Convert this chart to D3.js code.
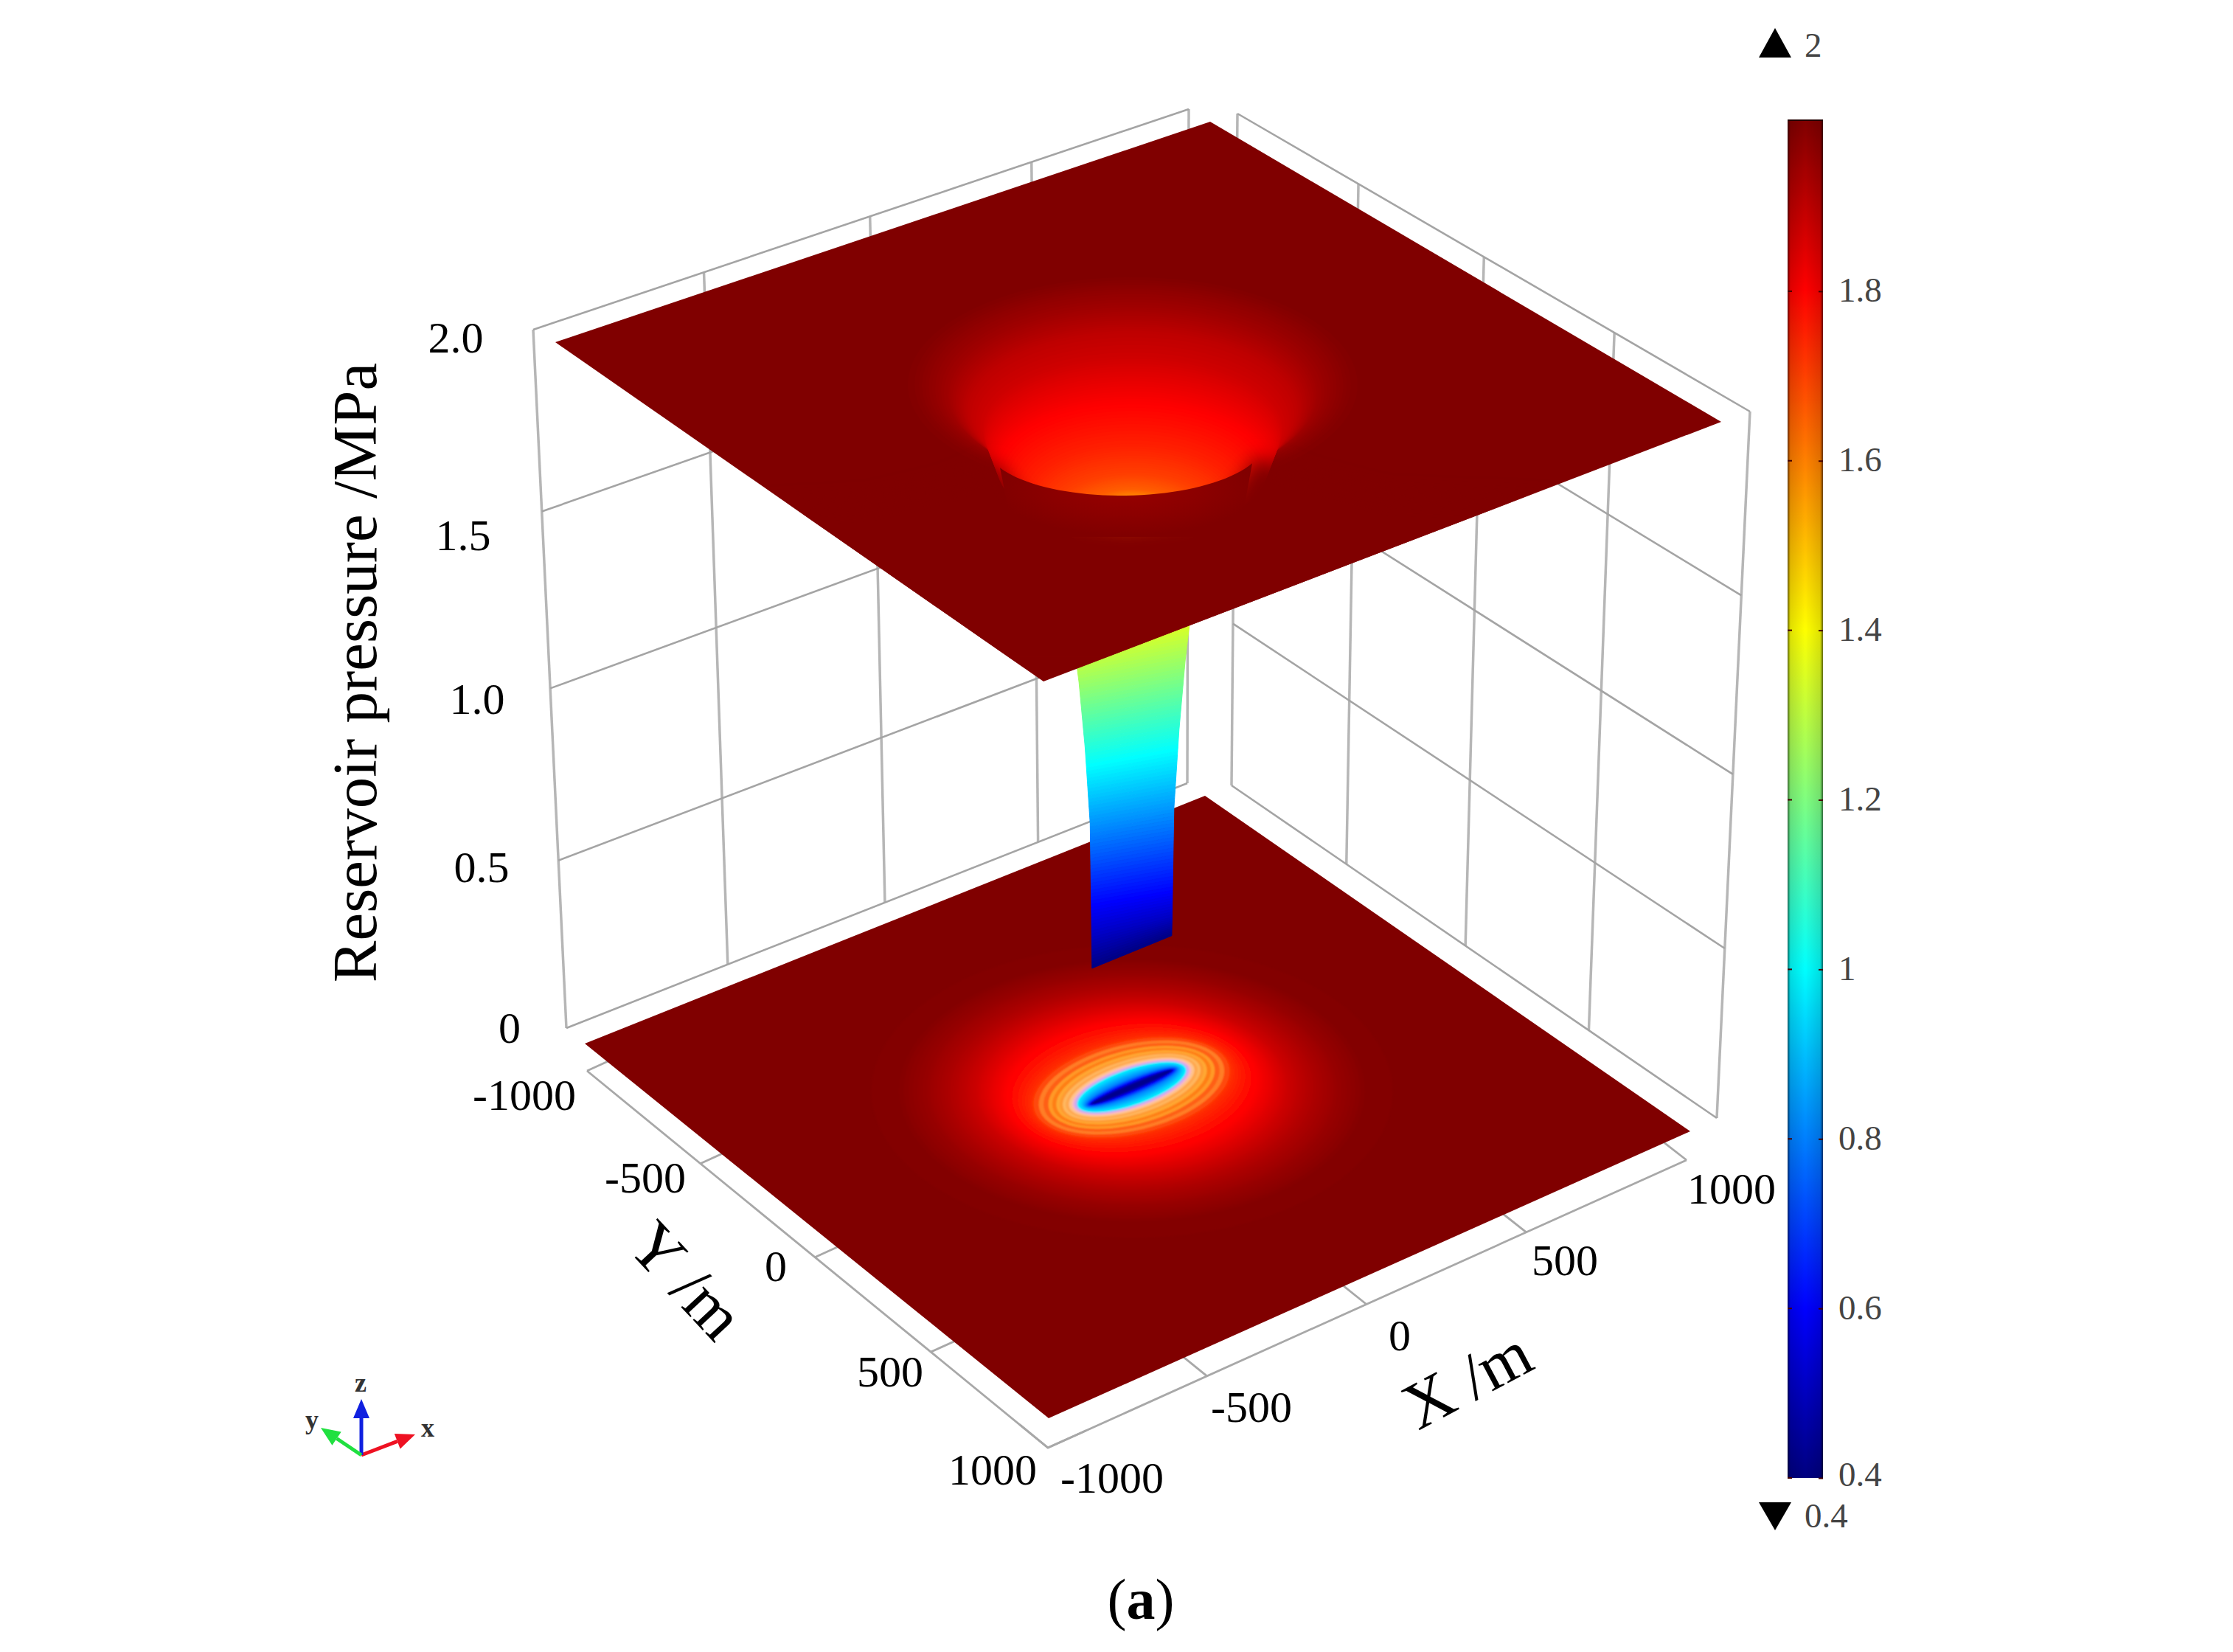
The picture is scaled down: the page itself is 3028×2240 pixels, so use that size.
<!DOCTYPE html>
<html><head><meta charset="utf-8">
<script src="https://cdn.jsdelivr.net/npm/d3@7"></script>
<style>html,body{margin:0;background:#fff}svg{display:block}text{font-family:"Liberation Serif",serif;fill:#000}</style>
</head><body><svg id="c" width="3028" height="2240"></svg>
<script>
// ---- values ----
const xTicks = [-1000,-500,0,500,1000];
const yTicks = [-1000,-500,0,500,1000];
const zTicks = [0,0.5,1,1.5,2];
const zTickLabels = ["0","0.5","1.0","1.5","2.0"];
const barTicks = [0.4,0.6,0.8,1,1.2,1.4,1.6,1.8];
const colormapValues = [0.4,0.6,1.0,1.4,1.8,2.0];
const colormapColors = ["#000080","#0000ff","#00ffff","#ffff00","#ff0000","#800000"];
// upper sheet: contour pressure, contour radius (m), apparent height of the contour (MPa)
const topLevels = [2.0,1.99,1.97,1.95,1.90,1.875,1.8,1.75,1.7,1.65,1.6];
const topRadius = [560,520,480,445,395,362,326,250,190,130,70];
const topHeight = [2.0,2.0,1.99,1.97,1.92,1.87,1.755,1.68,1.63,1.62,1.64];
// lower sheet: contour pressure and half-axes (m)
const groundLevels = [1.995,1.99,1.96,1.92,1.88,1.84,1.80,1.76,1.72,1.68,1.64,1.60,1.54,1.48,1.42,1.36,1.30,1.22,1.14,1.06,1.0,0.9,0.8,0.7,0.6,0.5,0.42];
const groundAx = [660,590,520,455,400,365,330,300,275,262,250,238,228,218,210,202,194,186,178,172,165,152,144,137,132,128,124];
const groundAy = [660,590,520,445,390,340,292,238,194,178,165,152,141,130,120,111,103,94,86,80,73,54,34,25,19,13,8];
// the drawdown column seen under the upper sheet
const columnLevels = [0.4,0.5,0.6,0.83,1.05,1.24,1.45];
const columnHalfX = [125,126,127,130,145,163,190];
const columnDrop = [0,0.03,0.045,0.045,0.045,0.045,0.045];

// ---- layout ----
const topCorners = [[753,464],[1641,165],[2334,572],[1415,924]];
const groundCorners = [[793,1415],[1634,1079],[2292,1534],[1422,1923]];
const frameCorners = [[796,1452],[1640,1068],[2287,1573],[1421,1963]];
const leftWallCorners = [[768,1394],[1610,1062],[1612,148],[723,447]];
const rightWallCorners = [[1670,1065],[2328,1516],[2373,558],[1678,154]];
const zLabelPos = [[691,1394],[653,1176],[647,948],[628,726],[618,458]];
const yLabelPos = [[711,1485],[875,1597],[1052,1717],[1207,1860],[1346,1993]];
const xLabelPos = [[1508,2004],[1697,1908],[1898,1811],[2122,1709],[2348,1612]];
const bar = {x:2424,w:48,top:163,bottom:2004};

const svg = d3.select("#c");
const defs = svg.append("defs");
const u = d3.scaleLinear().domain([-1000,1000]).range([0,1]);
const w = d3.scaleLinear().domain([0,2]).range([0,1]);
const jet = d3.scaleLinear().domain(colormapValues).range(colormapColors).clamp(true);
const line = d3.line();

function quad(p){
  const [x0,y0]=p[0],[x1,y1]=p[1],[x2,y2]=p[2],[x3,y3]=p[3];
  const dx1=x1-x2,dx2=x3-x2,sx=x0-x1+x2-x3,dy1=y1-y2,dy2=y3-y2,sy=y0-y1+y2-y3;
  const den=dx1*dy2-dx2*dy1,g=(sx*dy2-dx2*sy)/den,h=(dx1*sy-sx*dy1)/den;
  const a=x1-x0+g*x1,b=x3-x0+h*x3,d=y1-y0+g*y1,e=y3-y0+h*y3;
  return (s,t)=>{const q=g*s+h*t+1;return [(a*s+b*t+x0)/q,(d*s+e*t+y0)/q];};
}
const topQ=quad(topCorners),groundQ=quad(groundCorners),frameQ=quad(frameCorners),
      leftQ=quad(leftWallCorners),rightQ=quad(rightWallCorners);
const frame=(x,y)=>frameQ(u(x),u(y));
const leftWall=(x,z)=>leftQ(u(x),w(z));
const rightWall=(y,z)=>rightQ(u(y),w(z));
function scene(x,y,z){
  const a=groundQ(u(x),u(y)),b=topQ(u(x),u(y)),t=w(z);
  return [a[0]+(b[0]-a[0])*t,a[1]+(b[1]-a[1])*t];
}
function contour(ax,ay,z){
  const pts=d3.range(0,72).map(i=>{const t=i/72*2*Math.PI;return scene(ax*Math.cos(t),ay*Math.sin(t),z);});
  return line(pts)+"Z";
}

// ---- walls ----
const walls=svg.append("g").attr("fill","none");
function wall(fnc){
  xTicks.forEach(t=>walls.append("path").attr("d",line([fnc(t,0),fnc(t,2)]))
    .attr("stroke","#b6b6b6").attr("stroke-width",3.5));
  zTicks.forEach(t=>walls.append("path").attr("d",line([fnc(-1000,t),fnc(1000,t)]))
    .attr("stroke","#a4a4a4").attr("stroke-width",2.6));
}
wall(leftWall); wall(rightWall);

// ---- floor frame and ticks ----
const frameG=svg.append("g").attr("fill","none").attr("stroke","#a8a8a8").attr("stroke-width",2.8);
frameG.append("path").attr("d",line([frame(-1000,-1000),frame(-1000,1000),frame(1000,1000)]));
xTicks.forEach(t=>frameG.append("path").attr("d",line([frame(t,1000),frame(t,880)])));
yTicks.forEach(t=>frameG.append("path").attr("d",line([frame(-1000,t),frame(-880,t)])));

// ---- lower sheet ----
svg.append("polygon").attr("points",groundCorners.join(" ")).attr("fill",jet(2));
defs.append("filter").attr("id","soft").append("feGaussianBlur").attr("stdDeviation",1.3);
const stripeDomain=[1.72,1.68,1.64,1.60,1.54,1.48,1.42,1.36,1.30,1.22,1.14,1.06,1.0];
const stripeRange=["#ff4a08","#ff7e28","#ff5e12","#ff9a28","#ff7e18","#ffa832","#ff9a30","#ffb860","#ffa850","#ffc48c","#f8b8c8","#d0a8f0","#50d8ff"];
const stripe=d3.scaleOrdinal().domain(stripeDomain).range(stripeRange);
const axAt=d3.scaleLinear().domain(groundLevels).range(groundAx);
const ayAt=d3.scaleLinear().domain(groundLevels).range(groundAy);
const groundG=svg.append("g").attr("filter","url(#soft)");
const smoothHigh=d3.range(1.995,1.72,-0.005);
const groundDraw=[...smoothHigh.map(p=>({p,c:jet(p)})),
  ...stripeDomain.map(p=>({p,c:stripe(p)})),
  ...d3.range(0.99,0.415,-0.01).map(p=>({p,c:jet(p)}))];
groundG.selectAll("path").data(groundDraw).join("path")
  .attr("d",d=>contour(axAt(d.p),ayAt(d.p),0)).attr("fill",d=>d.c);

// ---- column ----
const colAx=d3.scaleLinear().domain(columnLevels).range(columnHalfX);
const colDrop=d3.scaleLinear().domain(columnLevels).range(columnDrop);
const colG=svg.append("g");
const colSteps=d3.range(1.45,0.4,-0.01);
const tVals=d3.range(-1,1.001,0.25);
function colRow(p){return tVals.map(t=>scene(t*colAx(p),0,p-0.017-colDrop(p)*(1+0.6*t)));}
colG.selectAll("path").data(colSteps).join("path")
  .attr("d",p=>{const a=colRow(p),b=colRow(Math.max(0.4,p-0.01)).reverse();return line(a.concat(b))+"Z";})
  .attr("fill",p=>jet(p)).attr("stroke",p=>jet(p)).attr("stroke-width",1);

// ---- upper sheet ----
defs.append("clipPath").attr("id","topClip").append("polygon").attr("points",topCorners.join(" "));
svg.append("polygon").attr("points",topCorners.join(" ")).attr("fill",jet(2));
const rAt=d3.scaleLinear().domain(topLevels).range(topRadius);
const hAt=d3.scaleLinear().domain(topLevels).range(topHeight);
const topG=svg.append("g").attr("clip-path","url(#topClip)");
const dimple=topG.append("g");
dimple.selectAll("path").data(d3.range(1.995,1.6,-0.004)).join("path")
  .attr("d",p=>contour(rAt(p),rAt(p),hAt(p))).attr("fill",p=>jet(p));
// near lip of the dimple hides the deeper part
defs.append("filter").attr("id","lipBlur").attr("x","-20%").attr("y","-20%").attr("width","140%").attr("height","140%")
  .append("feGaussianBlur").attr("stdDeviation",13);
const lipOutline=[[1000,690],[1180,680],[1285,655],[1350,625],[1385,672],[1430,700],[1527,712],[1630,700],[1672,665],[1705,618],[1775,645],[1880,672],[2100,680],[2100,900],[1000,900]];
topG.append("path").attr("d",line(lipOutline)+"Z").attr("fill",jet(2)).attr("filter","url(#lipBlur)");
const lipGrad=defs.append("radialGradient").attr("id","lipGrad").attr("gradientUnits","userSpaceOnUse")
  .attr("cx",0).attr("cy",0).attr("r",178).attr("gradientTransform","translate(1527,662) scale(1,0.36)");
lipGrad.append("stop").attr("offset",0).attr("stop-color","#980000");
lipGrad.append("stop").attr("offset",0.55).attr("stop-color","#8c0000");
lipGrad.append("stop").attr("offset",1).attr("stop-color","#800000");
const lipArc=d3.range(-1,1.001,0.05).map(t=>[1527+190*Math.sin(t*1.12),600+72*Math.cos(t*1.12)-3*t]);
const lipLower=[[1680,728],[1375,728]];
topG.append("path").attr("d",line(lipArc.concat(lipLower))+"Z").attr("fill","url(#lipGrad)");

// ---- tick labels ----
const tickStyle=s=>s.attr("font-size",60).attr("text-anchor","middle").attr("dy","0.34em");
const labels=svg.append("g");
zTickLabels.forEach((t,i)=>labels.append("text").call(tickStyle).attr("x",zLabelPos[i][0]).attr("y",zLabelPos[i][1]).text(t));
yTicks.forEach((t,i)=>labels.append("text").call(tickStyle).attr("x",yLabelPos[i][0]).attr("y",yLabelPos[i][1]).text(t));
xTicks.forEach((t,i)=>labels.append("text").call(tickStyle).attr("x",xLabelPos[i][0]).attr("y",xLabelPos[i][1]).text(t));
const titles=[["Reservoir pressure /MPa",483,912,-90,85],["Y /m",930,1737,47,90],["X /m",1990,1872,-28,90]];
titles.forEach(d=>labels.append("text").attr("transform",`translate(${d[1]},${d[2]}) rotate(${d[3]})`)
  .attr("text-anchor","middle").attr("dy","0.32em").attr("font-size",d[4]).text(d[0]));
const cap=labels.append("text").attr("x",1547).attr("y",2172).attr("text-anchor","middle").attr("dy","0.3em").attr("font-size",78);
cap.append("tspan").text("(");cap.append("tspan").attr("font-weight","bold").text("a");cap.append("tspan").text(")");

// ---- colour bar ----
const barY=d3.scaleLinear().domain([0.4,2]).range([bar.bottom,165]);
const grad=defs.append("linearGradient").attr("id","jetGrad").attr("x1",0).attr("x2",0).attr("y1",1).attr("y2",0);
colormapValues.forEach((v,i)=>grad.append("stop").attr("offset",(v-0.4)/1.6).attr("stop-color",colormapColors[i]));
const barG=svg.append("g");
barG.append("rect").attr("x",bar.x).attr("y",bar.top).attr("width",bar.w).attr("height",bar.bottom-bar.top).attr("fill","url(#jetGrad)");
const edge=defs.append("linearGradient").attr("id","edgeGrad");
[[0,0.6],[0.08,0.12],[0.5,0],[0.92,0.12],[1,0.6]].forEach(s=>edge.append("stop").attr("offset",s[0]).attr("stop-color","#000").attr("stop-opacity",s[1]));
barG.append("rect").attr("x",bar.x).attr("y",bar.top).attr("width",bar.w).attr("height",bar.bottom-bar.top).attr("fill","url(#edgeGrad)");
barG.append("line").attr("x1",bar.x).attr("x2",bar.x+bar.w).attr("y1",bar.top).attr("y2",bar.top).attr("stroke","#200").attr("stroke-width",2);
const axis=d3.axisRight(barY).tickValues(barTicks).tickSizeInner(-6).tickSizeOuter(0).tickPadding(21).tickFormat(d=>String(d));
const axG=barG.append("g").attr("transform",`translate(${bar.x+bar.w},0)`).call(axis);
axG.select(".domain").remove();
axG.selectAll("line").attr("stroke","#400").attr("stroke-width",2);
axG.selectAll("text").attr("font-size",47).style("fill","#444").attr("dy",d=>d===0.4?"0.22em":"0.3em");
barG.selectAll(".leftTick").data(barTicks).join("line").attr("class","leftTick")
  .attr("x1",bar.x).attr("x2",bar.x+6).attr("y1",barY).attr("y2",barY).attr("stroke","#400").attr("stroke-width",2);
barG.append("path").attr("d",line([[2385,78],[2407,38],[2429,78]])+"Z").attr("fill","#000");
barG.append("path").attr("d",line([[2385,2037],[2429,2037],[2407,2075]])+"Z").attr("fill","#000");
barG.append("text").attr("x",2447).attr("y",63).attr("dy","0.3em").attr("font-size",47).style("fill","#444").text("2");
barG.append("text").attr("x",2447).attr("y",2057).attr("dy","0.3em").attr("font-size",47).style("fill","#444").text("0.4");

// ---- orientation triad ----
const triadOrigin=[490,1973];
const triad=[{tip:[563,1945],c:"#ee1122",t:"x",lab:[580,1939]},{tip:[490,1897],c:"#1020e0",t:"z",lab:[489,1878]},{tip:[435,1936],c:"#20e040",t:"y",lab:[423,1928]}];
const tg=svg.append("g");
triad.forEach(a=>{
  const dx=a.tip[0]-triadOrigin[0],dy=a.tip[1]-triadOrigin[1],L=Math.hypot(dx,dy),ux=dx/L,uy=dy/L;
  const bx=a.tip[0]-ux*26,by=a.tip[1]-uy*26;
  tg.append("line").attr("x1",triadOrigin[0]).attr("y1",triadOrigin[1]).attr("x2",bx).attr("y2",by).attr("stroke",a.c).attr("stroke-width",5);
  tg.append("path").attr("d",line([a.tip,[bx-uy*11,by+ux*11],[bx+uy*11,by-ux*11]])+"Z").attr("fill",a.c);
  tg.append("text").attr("x",a.lab[0]).attr("y",a.lab[1]).attr("text-anchor","middle").attr("dy","0.25em").attr("font-size",36).attr("font-weight","bold").style("fill","#333").text(a.t);
});
</script></body></html>
